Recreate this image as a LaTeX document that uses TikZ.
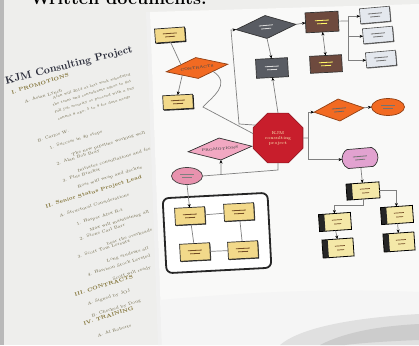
\documentclass[tikz,border=0pt]{standalone}
\usetikzlibrary{shapes.geometric,shapes.misc,arrows.meta,shadows}
\definecolor{bgc}{HTML}{EEEEEC}
\definecolor{pagec}{HTML}{F9F9F8}
\definecolor{txt}{HTML}{6B6443}
\definecolor{txtb}{HTML}{7A6A2A}
\definecolor{headc}{HTML}{2A2C3A}
\definecolor{noteY}{HTML}{F2D98A}
\definecolor{orangeD}{HTML}{F26A22}
\definecolor{grayD}{HTML}{595C63}
\definecolor{brownB}{HTML}{6E4A3E}
\definecolor{lightB}{HTML}{E4E8EE}
\definecolor{redO}{HTML}{C81E2C}
\definecolor{pinkD}{HTML}{F2A8C2}
\definecolor{pinkE}{HTML}{E892AE}
\definecolor{pinkR}{HTML}{E2A2D0}
\definecolor{treeY}{HTML}{F4E8A8}
\definecolor{lineC}{HTML}{808080}
\tikzset{
  every node/.style={inner sep=0pt, outer sep=0pt},
  conn/.style={draw=lineC, line width=0.7pt},
  arr/.style={conn, -{Stealth[length=3.5pt,width=3pt,color=black]}},
  darr/.style={conn, {Stealth[length=3.5pt,width=3pt,color=black]}-{Stealth[length=3.5pt,width=3pt,color=black]}},
  scrib/.style={path picture={
    \draw[#1, line width=0.8pt]
      ([xshift=-7pt,yshift=1.6pt]path picture bounding box.center) -- ++(14pt,0pt)
      ([xshift=-5pt,yshift=-1.6pt]path picture bounding box.center) -- ++(10pt,0pt);}},
  note/.style={draw=black!85, fill=noteY, line width=0.7pt, minimum width=30pt, minimum height=14pt,
    drop shadow={shadow xshift=1pt, shadow yshift=-1pt, opacity=0.9, fill=black}, scrib=brown!60!black},
  dia/.style={diamond, inner sep=0pt, aspect=2.8, line width=0.7pt},
  grect/.style={draw=black!80, fill=grayD, line width=0.7pt, minimum width=32pt, minimum height=19pt, scrib=white!85!black},
  brect/.style={draw=black!80, fill=brownB, line width=0.7pt, minimum width=33pt, minimum height=20pt, scrib=yellow!60!white},
  lbox/.style={draw=black!70, fill=lightB, line width=0.6pt, minimum width=30pt, minimum height=15pt,
    drop shadow={shadow xshift=0.8pt, shadow yshift=-0.8pt, opacity=0.8, fill=black!80}, scrib=black!55},
  tbox/.style={draw=black, line width=0.8pt, fill=treeY, minimum width=33pt, minimum height=16pt,
    path picture={\fill[black!85] (path picture bounding box.north west) rectangle ([xshift=7pt]path picture bounding box.south west);
      \draw[brown!60!black, line width=0.7pt]
      ([xshift=-3pt,yshift=2pt]path picture bounding box.center) -- ++(10pt,0pt)
      ([xshift=-1pt,yshift=-2pt]path picture bounding box.center) -- ++(7pt,0pt);}},
  ybox/.style={draw=black!85, fill=noteY, line width=0.7pt, minimum width=30pt, minimum height=17pt,
    drop shadow={shadow xshift=0.8pt, shadow yshift=-0.8pt, opacity=0.8, fill=black}, scrib=brown!60!black, rotate=3},
  doc/.style={anchor=base west, rotate=17, text=txt, font=\fontsize{4.2}{5}\selectfont},
  dochd/.style={doc, text=txtb, font=\fontsize{5}{6}\selectfont\bfseries},
}
\begin{document}
\begin{tikzpicture}[x=1pt,y=-1pt]
\useasboundingbox (0,0) rectangle (419,345);
\clip (0,0) rectangle (419,345);
\fill[bgc] (0,0) rectangle (419,345);
\fill[gray!55] (0,0) rectangle (3.5,345);
% cut title
\node[anchor=base west, font=\fontsize{18}{20}\selectfont\bfseries] (title) at (30,5) {Written documents.};
% left document
\node[anchor=base west, rotate=14, text=headc, font=\fontsize{10.5}{12}\selectfont\bfseries] (L0) at (6,84) {KJM Consulting Project};
\node[dochd] (L1) at (12,94) {I. PROMOTIONS};
\node[doc] (L2) at (25,103) {A. Asian Lynch};
\node[doc, font=\fontsize{3.6}{4}\selectfont] (L3) at (53,99) {Alan will 2014 at last week scheduled};
\node[doc, font=\fontsize{3.6}{4}\selectfont] (L4) at (53,106) {the team and consultants agree to get};
\node[doc, font=\fontsize{3.6}{4}\selectfont] (L5) at (55,113) {full job security or proceed with a pay};
\node[doc, font=\fontsize{3.6}{4}\selectfont] (L6) at (58,120) {cannot 8 ago, 5 to 9 for data needs};
\node[doc] (L7) at (38,142) {B. Carlos W.};
\node[doc] (L8) at (50,149) {1. Success in 40 steps};
\node[doc] (L9) at (72,156) {The new pipeline working well};
\node[doc] (L10) at (57,165) {2. Alan Bob Bray};
\node[doc] (L11) at (78,172) {Initiates consultations and fee};
\node[doc] (L12) at (63,182) {3. Plus Bracket};
\node[doc] (L13) at (78,188) {Ross will wrap and decline};
\node[dochd] (L14) at (46,208) {II. Senior Status Project Lead};
\node[doc] (L15) at (60,217) {A. Structural Considerations};
\node[doc] (L16) at (77,225) {1. Harper Alex R-t};
\node[doc] (L17) at (90,231) {Max will maintaining all};
\node[doc] (L18) at (80,240) {2. Stone Carl Barr};
\node[doc] (L19) at (107,245) {bear the overheads};
\node[doc] (L20) at (78,258) {3. Scott Tom Lorentz};
\node[doc] (L21) at (107,262) {Long students all};
\node[doc] (L22) at (88,276) {4. Harrison Stock Leveled};
\node[doc] (L23) at (113,280) {Scott will ready};
\node[dochd] (L24) at (75,296) {III. CONTRACTS};
\node[doc] (L25) at (88,305) {A. Signed by JOJ};
\node[doc] (L26) at (92,317) {B. Checked by Doug};
\node[dochd] (L27) at (84,325) {IV. TRAINING};
\node[doc] (L28) at (98,337) {A. Al Roberts};
% right page
\fill[black!6] (146,12) -- (150,12) -- (162,345) -- (158,345) -- cycle;
\fill[pagec] (150,12) -- (419,4) -- (419,345) -- (162,345) -- cycle;
\fill[black!4] (160,300) .. controls (250,292) and (330,288) .. (419,292) -- (419,345) -- (162,345) -- cycle;
\fill[black!12] (280,345) .. controls (300,328) and (350,318) .. (419,314) -- (419,345) -- cycle;
\fill[black!20] (320,345) .. controls (345,332) and (380,326) .. (419,324) -- (419,340) .. controls (390,341) and (360,343) .. (345,345) -- cycle;
% flowchart nodes
\node[note, rotate=4] (n1) at (170,35) {};
\node[dia, fill=orangeD, draw=orangeD!60!black, minimum width=62pt, minimum height=21pt, rotate=7, font=\fontsize{3.5}{4}\selectfont\bfseries, text=black!70] (d1) at (197,68) {CONTRACTS};
\node[note, rotate=3] (n2) at (178,102) {};
\node[dia, fill=grayD, draw=black!80, minimum width=60pt, minimum height=23pt, rotate=5, scrib=white!85!black] (d2) at (266,27) {};
\node[grect, rotate=3] (r1) at (272,68) {};
\node[brect, rotate=3] (b1) at (322,22) {};
\node[brect, rotate=3, minimum height=17pt, minimum width=32pt] (b2) at (326,64) {};
\node[lbox, rotate=5] (l1) at (375,15) {};
\node[lbox, rotate=5] (l2) at (378,35) {};
\node[lbox, rotate=5] (l3) at (381,59) {};
\node[regular polygon, regular polygon sides=8, minimum size=54pt, fill=redO, draw=redO!70!black, line width=0.6pt,
  align=center, text=yellow!25!white, font=\fontsize{4.3}{5}\selectfont] (oct) at (278,138) {KJM\\consulting\\project};
\node[dia, fill=orangeD, draw=orangeD!60!black, minimum width=50pt, minimum height=22pt, rotate=5, scrib=black!60] (d4) at (339,110) {};
\node[ellipse, fill=orangeD, draw=orangeD!60!black, line width=0.7pt, minimum width=33pt, minimum height=17pt, scrib=black!55] (e2) at (388,107) {};
\node[rounded rectangle, rounded rectangle arc length=120, fill=pinkR, draw=black!80, line width=0.7pt, minimum width=36pt, minimum height=19pt, rotate=5, scrib=black!55] (p1) at (360,158) {};
\node[tbox, rotate=4] (t1) at (363,191) {};
\node[tbox, rotate=4, minimum width=32pt, minimum height=17pt] (t2) at (335,222) {};
\node[tbox, rotate=4, minimum width=32pt, minimum height=17pt] (t3) at (397,215) {};
\node[tbox, rotate=4, minimum width=31pt, minimum height=18pt] (t4) at (338,248) {};
\node[tbox, rotate=4, minimum width=31pt, minimum height=18pt] (t5) at (399,242) {};
\node[dia, fill=pinkD, draw=black!80, minimum width=64pt, minimum height=22pt, rotate=5, font=\fontsize{3.5}{4}\selectfont\bfseries, text=black!70] (d3) at (220,149) {PROMOTIONS};
\node[ellipse, fill=pinkE, draw=black!75, line width=0.7pt, minimum width=31pt, minimum height=17pt, scrib=black!50] (e1) at (187,176) {};
\node[rounded corners=6pt, draw=black!85, fill=white, line width=1.8pt, minimum width=105pt, minimum height=75pt, rotate=3] (grp) at (217,233) {};
\node[ybox] (y1) at (190,216) {};
\node[ybox] (y2) at (239,212) {};
\node[ybox] (y3) at (195,252) {};
\node[ybox] (y4) at (243,250) {};
% coordinates
\coordinate (j0) at (231,30);
\coordinate (j1) at (239,124);
\coordinate (bx) at (348,21);
\coordinate (jr) at (308,138);
\coordinate (jb) at (278,170);
\coordinate (jd) at (221,174.5);
\coordinate (w1) at (203,107);
% connectors
\draw[conn] (n1.south) -- (d1.north west);
\draw[arr] (d1.south west) -- (n2.north);
\draw[conn] (d1.south east) .. controls (232,84) and (212,97) .. (w1) -- (oct.170);
\draw[arr] (oct.150) -- (j1) -- (j0) -- (d2.west);
\draw[arr] (d2.south) -- (r1.north);
\draw[arr] (oct.north) -- (r1.south);
\draw[arr] (d2.east) -- (b1.west);
\draw[darr] (b1.south) -- (b2.north);
\draw[conn] (b1.east) -- (bx);
\draw[arr] (bx) |- (l1.west);
\draw[arr] (bx) |- (l2.west);
\draw[arr] (bx) |- (l3.west);
\draw[conn] (oct.east) -- (jr);
\draw[arr] (jr) |- (d4.west);
\draw[arr] (jr) |- (p1.west);
\draw[arr] (d4.east) -- (e2.west);
\draw[arr] (p1.south) -- (t1.north);
\draw[arr] (t1.south) -- ++(0,6) -| (t2.north);
\draw[arr] (t1.east) -| (t3.north);
\draw[arr] (t2.south) -- (t4.north);
\draw[arr] (t3.south) -- (t5.north);
\draw[conn] (oct.south) -- (jb) -- (e1.east);
\draw[arr] (jd) -- (d3.south);
\draw[arr] (e1.south) -- (y1.north);
\draw[conn] (y1) -- (y2);
\draw[conn] (y2) -- (y4);
\draw[conn] (y4) -- (y3);
\draw[conn] (y3) -- (y1);
\end{tikzpicture}
\end{document}
